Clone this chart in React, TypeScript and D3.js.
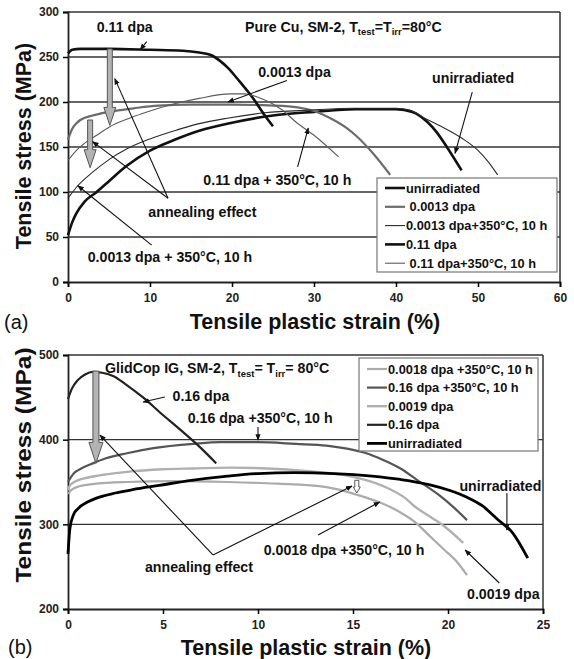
import { useEffect, useRef } from "react";
import * as d3 from "d3";

type Pt = [number, number];

// ---------------- (a) Pure Cu ----------------
const aXTicks = [0, 10, 20, 30, 40, 50, 60];
const aYTicks = [0, 50, 100, 150, 200, 250, 300];
const aNames = ["unirradiated", " 0.0013 dpa", "0.0013 dpa+350°C, 10 h", "0.11 dpa", " 0.11 dpa+350°C, 10 h"];

const aUnirr: Pt[] = [[0, 52], [0.5, 66], [1, 76], [2, 89], [3.5, 100], [5, 112], [7, 128], [10, 146], [13, 158], [16, 168], [20, 177], [25, 185], [30, 189], [35, 192], [40, 192], [42, 189], [43.8, 178], [45, 166], [46.2, 150], [48, 124]];
const aLow: Pt[] = [[0, 158], [0.5, 170], [1, 176], [1.5, 180], [3, 185], [5, 189], [8, 193], [11, 196], [15, 197], [20, 197], [25, 196], [28, 194], [30, 190], [32, 182], [34, 171], [35.2, 162], [37, 145], [39.3, 119]];
const aLowAnn: Pt[] = [[0, 93], [1, 105], [3, 122], [5, 136], [7.2, 148], [10, 159], [13.3, 169], [16, 176], [19.4, 182], [24, 188], [29.5, 191], [35, 193], [40, 193], [41.7, 191], [43.5, 182], [45.7, 172], [48, 160], [49.9, 147], [51.3, 133], [52.4, 119]];
const aHigh: Pt[] = [[0, 254], [0.5, 258], [1.5, 259], [5, 259], [10, 258], [14, 257], [16, 255], [17.5, 252], [18.5, 246], [19.5, 238], [21, 222], [22.5, 205], [24, 185], [25, 173]];
const aHighAnn: Pt[] = [[0, 135], [1, 146], [2, 154], [3.5, 163], [5, 172], [7.5, 182], [10, 190], [13, 198], [16, 204], [19.8, 209], [21.5, 209], [23.8, 203], [26, 192], [27.9, 177], [30, 163], [33, 139]];

// ---------------- (b) GlidCop IG ----------------
const bXTicks = [0, 5, 10, 15, 20, 25];
const bYTicks = [200, 300, 400, 500];
const bNames = ["0.0018 dpa +350°C, 10 h", "0.16 dpa +350°C, 10 h", "0.0019 dpa", "0.16 dpa", "unirradiated"];

const bLowAnn: Pt[] = [[0, 336], [0.2, 341], [0.6, 345], [1.5, 348], [3.1, 350], [5.5, 351], [8.4, 350], [11, 348], [13.6, 344], [15.2, 335], [16.4, 326], [17.5, 314], [18.3, 302], [19, 287], [19.8, 270], [20.5, 255], [21, 240]];
const bHighAnn: Pt[] = [[0, 350], [0.3, 360], [0.7, 366], [1.3, 372], [2, 378], [3.1, 384], [4.5, 390], [6.6, 395], [8, 397], [10, 397], [12, 395], [13.6, 393], [15, 388], [15.7, 384], [16.5, 377], [17.5, 366], [18.4, 352], [19.5, 335], [20.3, 320], [21, 305]];
const bLow: Pt[] = [[0, 340], [0.1, 346], [0.5, 352], [1, 355], [2, 359], [3.1, 362], [5, 365], [6.6, 366], [8.5, 367], [10.5, 366], [12.5, 363], [14.8, 357], [16.5, 346], [17.8, 330], [18.2, 322], [19.2, 307], [19.9, 296], [20.8, 278]];
const bHigh: Pt[] = [[0, 448], [0.2, 460], [0.5, 470], [0.9, 477], [1.3, 480], [1.8, 479], [2.4, 475], [3, 466], [4, 449], [4.8, 433], [6, 410], [7, 390], [7.8, 372]];
const bUnirr: Pt[] = [[0, 265], [0.1, 295], [0.3, 312], [0.5, 318], [1, 326], [1.5, 331], [2.5, 337], [3.4, 341], [4.8, 346], [6.5, 352], [8.4, 357], [10, 360], [11.9, 361], [14, 360], [16, 357], [17.5, 353], [19, 347], [20.1, 340], [21, 332], [21.8, 322], [22.6, 306], [23.4, 290], [24.2, 260]];

const FONT = "'Liberation Sans', Arial, Helvetica, sans-serif";

function App() {
  const ref = useRef<SVGSVGElement>(null);

  useEffect(() => {
    drawChart();
  }, []);

  function drawChart() {
    const svg = d3.select(ref.current);
    svg.selectAll("*").remove();

    svg.append("defs").append("marker")
      .attr("id", "ah")
      .attr("viewBox", "0 0 10 10")
      .attr("refX", 9).attr("refY", 5)
      .attr("markerWidth", 6).attr("markerHeight", 6)
      .attr("orient", "auto")
      .append("path").attr("d", "M0,1 L10,5 L0,9 z").attr("fill", "#111");

    // panel (a)
    drawPanel(svg, {
      x: d3.scaleLinear().domain([0, 60]).range([68, 560]),
      y: d3.scaleLinear().domain([0, 300]).range([282, 12]),
      xTicks: aXTicks, yTicks: aYTicks,
      series: [aUnirr, aLow, aLowAnn, aHigh, aHighAnn],
      styles: [
        { c: "#111", w: 2.6 }, { c: "#6b6b6b", w: 2.2 }, { c: "#2a2a2a", w: 1.1 },
        { c: "#111", w: 2.6 }, { c: "#5a5a5a", w: 1.1 },
      ],
      names: aNames,
      legend: { x: 377, y: 178, w: 180, h: 94, row: 18.8, first: 10 },
      xTitleY: 329, xTitleX: 315, yTitleC: 146, yTitleS: 1,
      panelLabel: "(a)", labelX: 4, labelY: 329,
      texts: [
        { parts: [["0.11 dpa"]], x: 3.5, y: 278 },
        { parts: [["Pure Cu, SM-2, T"], ["test", 1], ["=T"], ["irr", 1], ["=80°C"]], x: 21.6, y: 278 },
        { parts: [["0.0013 dpa"]], x: 23.2, y: 228 },
        { parts: [["unirradiated"]], x: 44.4, y: 221 },
        { parts: [["0.11 dpa + 350°C, 10 h"]], x: 16.5, y: 108 },
        { parts: [["annealing effect"]], x: 9.8, y: 72 },
        { parts: [["0.0013 dpa + 350°C, 10 h"]], x: 2.4, y: 22 },
      ],
      arrows: [
        [9.6, 267, 8.8, 258], [26.7, 224, 19.5, 200], [49.3, 211, 47.2, 143],
        [28, 128, 29.3, 171], [12.2, 93, 3.0, 156], [12.2, 93, 5.7, 226], [10.2, 41, 1.2, 107],
      ],
      blocks: [
        { x: 5.1, y0: 259, y1: 174, sw: 5, hw: 12, hl: 18, fill: "#b3b3b3" },
        { x: 2.7, y0: 180, y1: 127, sw: 5, hw: 12, hl: 18, fill: "#b3b3b3" },
      ],
    });

    // panel (b)
    drawPanel(svg, {
      x: d3.scaleLinear().domain([0, 25]).range([68, 543]),
      y: d3.scaleLinear().domain([200, 500]).range([609, 355]),
      xTicks: bXTicks, yTicks: bYTicks,
      series: [bLowAnn, bHighAnn, bLow, bHigh, bUnirr],
      styles: [
        { c: "#ababab", w: 2.2 }, { c: "#555", w: 2.2 }, { c: "#b0b0b0", w: 2.4 },
        { c: "#222", w: 2.2 }, { c: "#000", w: 2.8 },
      ],
      names: bNames,
      legend: { x: 359, y: 358, w: 179, h: 93, row: 18.6, first: 11 },
      xTitleY: 655, xTitleX: 306, yTitleC: 465, yTitleS: 1.14,
      panelLabel: "(b)", labelX: 8, labelY: 654,
      texts: [
        { parts: [["GlidCop IG, SM-2,  T"], ["test", 1], ["= T"], ["irr", 1], ["= 80°C"]], x: 1.95, y: 478.6 },
        { parts: [["0.16 dpa"]], x: 5.5, y: 445.6 },
        { parts: [["0.16 dpa +350°C, 10 h"]], x: 6.3, y: 419.6 },
        { parts: [["unirradiated"]], x: 20.6, y: 339 },
        { parts: [["annealing effect"]], x: 4.05, y: 243.7 },
        { parts: [["0.0018 dpa +350°C, 10 h"]], x: 10.3, y: 263.8 },
        { parts: [["0.0019 dpa"]], x: 21, y: 211.8 },
      ],
      arrows: [
        [5.1, 450.3, 3.95, 444.4], [10, 414.9, 10, 399.5], [7.63, 263.8, 1.68, 405.4],
        [7.63, 263.8, 14.95, 345.2], [13.16, 287.4, 16.4, 326.3], [23.1, 337, 23.1, 293.3],
        [22.7, 230.7, 20.9, 269.7],
      ],
      blocks: [
        { x: 1.47, y0: 481, y1: 372, sw: 6, hw: 14, hl: 21, fill: "#b3b3b3" },
        { x: 15.2, y0: 352, y1: 337, sw: 4, hw: 7, hl: 6, fill: "#fff" },
      ],
    });
  }

  function drawPanel(svg: any, p: any) {
    const { x, y } = p;
    const [x0, x1] = x.range();
    const [yb, yt] = y.range();
    const g = svg.append("g");

    // gridlines (incl. top border)
    g.append("g").selectAll("line")
      .data(p.yTicks.slice(1))
      .join("line")
      .attr("x1", x0).attr("x2", x1)
      .attr("y1", (d: number) => y(d)).attr("y2", (d: number) => y(d))
      .attr("stroke", "#333").attr("stroke-width", 1.3);
    // right border
    g.append("line").attr("x1", x1).attr("x2", x1).attr("y1", yt).attr("y2", yb)
      .attr("stroke", "#333").attr("stroke-width", 1.5);

    // axes
    g.append("g")
      .attr("transform", `translate(0,${yb})`)
      .call(d3.axisBottom(x).tickValues(p.xTicks).tickSize(5).tickPadding(6))
      .call((a: any) => a.select(".domain").attr("stroke-width", 1.8).attr("stroke", "#222"))
      .call((a: any) => a.selectAll(".tick line").attr("stroke-width", 1.5))
      .call((a: any) => a.selectAll("text").attr("font-family", FONT).attr("font-weight", "bold").attr("font-size", 12).attr("fill", "#222"));
    g.append("g")
      .attr("transform", `translate(${x0},0)`)
      .call(d3.axisLeft(y).tickValues(p.yTicks).tickSize(5).tickPadding(4))
      .call((a: any) => a.select(".domain").attr("stroke-width", 1.8).attr("stroke", "#222"))
      .call((a: any) => a.selectAll(".tick line").attr("stroke-width", 1.5))
      .call((a: any) => a.selectAll("text").attr("font-family", FONT).attr("font-weight", "bold").attr("font-size", 12).attr("fill", "#222"));

    // axis titles
    g.append("text")
      .attr("x", p.xTitleX).attr("y", p.xTitleY)
      .attr("text-anchor", "middle")
      .attr("font-family", FONT).attr("font-weight", "bold").attr("font-size", 21.5)
      .attr("fill", "#111")
      .text("Tensile plastic strain (%)");
    g.append("text")
      .attr("transform", `translate(31,${p.yTitleC}) rotate(-90) scale(${p.yTitleS},1)`)
      .attr("text-anchor", "middle")
      .attr("font-family", FONT).attr("font-weight", "bold").attr("font-size", 21.5)
      .attr("fill", "#111")
      .text("Tensile stress (MPa)");
    g.append("text")
      .attr("x", p.labelX).attr("y", p.labelY)
      .attr("font-family", FONT).attr("font-size", 20)
      .attr("fill", "#111")
      .text(p.panelLabel);

    // curves
    const line = d3.line<Pt>()
      .x((d) => x(d[0]))
      .y((d) => y(d[1]))
      .curve(d3.curveMonotoneX);
    g.append("g").selectAll("path")
      .data(p.series)
      .join("path")
      .attr("d", (d: Pt[]) => line(d))
      .attr("fill", "none")
      .attr("stroke", (_: any, i: number) => p.styles[i].c)
      .attr("stroke-width", (_: any, i: number) => p.styles[i].w)
      .attr("stroke-linejoin", "round");

    // block arrows
    g.append("g").selectAll("path")
      .data(p.blocks)
      .join("path")
      .attr("d", (b: any) => {
        const cx = x(b.x), t = y(b.y0), tip = y(b.y1);
        const pts: Pt[] = [
          [cx - b.sw / 2, t], [cx + b.sw / 2, t], [cx + b.sw / 2, tip - b.hl],
          [cx + b.hw / 2, tip - b.hl], [cx, tip], [cx - b.hw / 2, tip - b.hl], [cx - b.sw / 2, tip - b.hl],
        ];
        return "M" + pts.join("L") + "Z";
      })
      .attr("fill", (b: any) => b.fill)
      .attr("stroke", "#555").attr("stroke-width", 1);

    // annotation arrows
    g.append("g").selectAll("line")
      .data(p.arrows)
      .join("line")
      .attr("x1", (d: number[]) => x(d[0])).attr("y1", (d: number[]) => y(d[1]))
      .attr("x2", (d: number[]) => x(d[2])).attr("y2", (d: number[]) => y(d[3]))
      .attr("stroke", "#111").attr("stroke-width", 1.1)
      .attr("marker-end", "url(#ah)");

    // annotation texts
    p.texts.forEach((t: any) => {
      const tx = g.append("text")
        .attr("x", x(t.x)).attr("y", y(t.y))
        .attr("font-family", FONT).attr("font-weight", "bold").attr("font-size", 14.2)
        .attr("fill", "#111");
      let shifted = false;
      t.parts.forEach((part: any) => {
        const sub = !!part[1];
        const dy = sub && !shifted ? 3.5 : !sub && shifted ? -3.5 : 0;
        shifted = sub;
        tx.append("tspan")
          .attr("dy", dy)
          .attr("font-size", sub ? 9.5 : 14.2)
          .text(part[0]);
      });
    });

    // legend
    const L = p.legend;
    const lg = g.append("g").attr("transform", `translate(${L.x},${L.y})`);
    lg.append("rect").attr("width", L.w).attr("height", L.h)
      .attr("fill", "#fff").attr("stroke", "#777").attr("stroke-width", 1.2);
    const rows = lg.selectAll("g.row")
      .data(p.names)
      .join("g")
      .attr("class", "row")
      .attr("transform", (_: any, i: number) => `translate(0,${L.first + i * L.row})`);
    rows.append("line")
      .attr("x1", 8).attr("x2", 28).attr("y1", 0).attr("y2", 0)
      .attr("stroke", (_: any, i: number) => p.styles[i].c)
      .attr("stroke-width", (_: any, i: number) => p.styles[i].w);
    rows.append("text")
      .attr("x", 29).attr("y", 4.5)
      .attr("xml:space", "preserve")
      .style("white-space", "pre")
      .attr("font-family", FONT).attr("font-weight", "bold").attr("font-size", 12.8)
      .attr("fill", "#111")
      .text((d: string) => d);
  }

  return (
    <svg
      ref={ref}
      width={574}
      height={659}
      style={{ position: "absolute", left: 0, top: 0, background: "#fff" }}
    />
  );
}

export default App;
